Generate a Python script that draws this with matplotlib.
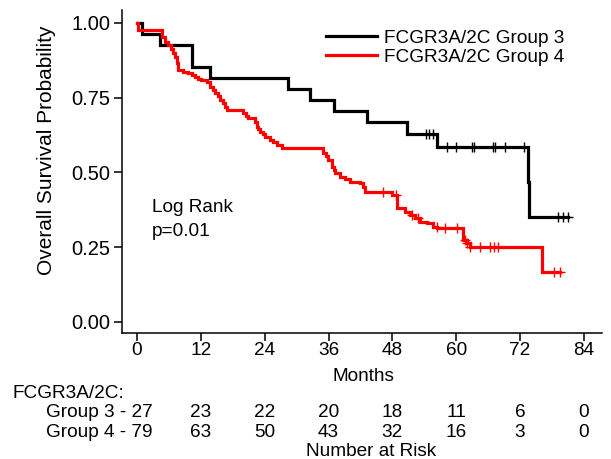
import numpy as np
import matplotlib
matplotlib.use("Agg")
import matplotlib.pyplot as plt
from matplotlib.lines import Line2D
import matplotlib.transforms as mtransforms

plt.rcParams['font.family'] = ['Liberation Sans', 'DejaVu Sans']
FS = 13.7

# ---------------- data ----------------
g3_label = "FCGR3A/2C Group 3"
g4_label = "FCGR3A/2C Group 4"

# Group 3: event times (months) and survival after each step
g3_times = [0, 0.9, 4.3, 10.3, 13.7, 28.4, 32.5, 37.0, 43.2, 50.8, 56.3, 73.4, 73.7]
g3_surv = [1.0, 0.963, 0.926, 0.852, 0.815, 0.778, 0.741, 0.704, 0.667, 0.630, 0.585, 0.468, 0.351]
g3_censor = [54.3, 54.9, 55.7, 58.2, 60.0, 63.0, 63.4, 66.9, 67.3, 69.2, 72.7, 79.2, 80.0, 81.1]

# Group 4
g4_times = [0, 0.1, 4.64, 5.26, 5.83, 6.39, 6.82, 7.14, 7.46, 7.76, 8.70, 9.59, 10.34, 10.90,
            11.47, 12.03, 13.10, 13.72, 14.29, 14.66, 15.23, 15.60, 16.17, 16.54, 16.86,
            19.98, 20.58, 20.92, 22.18, 22.50, 22.80, 23.12, 23.68, 24.06, 25.00, 25.56,
            26.26, 27.20, 35.02, 35.53, 35.96, 36.60, 36.94, 37.22, 38.16, 39.10, 40.04,
            41.92, 42.39, 42.86, 47.88, 48.82, 50.38, 51.32, 52.26, 53.20, 54.45, 55.70,
            56.33, 61.33, 61.97, 62.59, 76.07]
g4_surv = [1.0, 0.977, 0.953, 0.937, 0.926, 0.911, 0.900, 0.886, 0.865, 0.843, 0.837, 0.832,
           0.824, 0.820, 0.813, 0.808, 0.803, 0.787, 0.776, 0.765, 0.754, 0.742, 0.731,
           0.720, 0.709, 0.698, 0.687, 0.681, 0.670, 0.653, 0.645, 0.636, 0.629, 0.620,
           0.609, 0.600, 0.592, 0.581, 0.564, 0.554, 0.542, 0.519, 0.508, 0.497, 0.486,
           0.477, 0.469, 0.464, 0.450, 0.436, 0.425, 0.380, 0.369, 0.358, 0.347, 0.335,
           0.330, 0.319, 0.313, 0.274, 0.263, 0.252, 0.168]
g4_censor = [46.3, 48.6, 51.6, 52.9, 56.3, 57.9, 60.1, 61.6, 62.0, 62.6, 64.5, 66.4, 67.1,
             67.9, 78.3, 79.5]

risk_times = [0, 12, 24, 36, 48, 60, 72, 84]
g3_risk = [27, 23, 22, 20, 18, 11, 6, 0]
g4_risk = [79, 63, 50, 43, 32, 16, 3, 0]

x_ticks = [0, 12, 24, 36, 48, 60, 72, 84]
y_ticks = [0.0, 0.25, 0.5, 0.75, 1.0]

# ---------------- figure ----------------
W, H = 611, 459
fig = plt.figure(figsize=(W / 100, H / 100), dpi=100)
ax = fig.add_axes([122 / W, 1 - 333 / H, 480 / W, 323 / H])


def km_draw(times, surv, censor, color):
    t = list(times) + [max(censor[-1], times[-1])]
    s = list(surv) + [surv[-1]]
    ax.step(t, s, where='post', color=color, lw=2.3, solid_joinstyle='miter', zorder=3)
    idx = np.searchsorted(np.array(times), np.array(censor), side='right') - 1
    cs = np.array(surv)[idx]
    ax.plot(censor, cs, ls='none', marker='+', ms=7.5, mew=1.0, color=color, zorder=4)


km_draw(g3_times, g3_surv, g3_censor, 'black')
km_draw(g4_times, g4_surv, g4_censor, '#ff0000')

ax.set_xlim(-2.82, 87.4)
ax.set_ylim(-0.037, 1.043)
ax.set_xticks(x_ticks)
ax.set_xticklabels([str(v) for v in x_ticks])
ax.set_yticks(y_ticks)
ax.set_yticklabels([f"{v:.2f}" for v in y_ticks])
for sp in ['top', 'right']:
    ax.spines[sp].set_visible(False)
for sp in ['left', 'bottom']:
    ax.spines[sp].set_linewidth(1.1)
ax.tick_params(axis='both', direction='out', length=5.5, width=1.1, labelsize=FS, colors='black')
ax.tick_params(axis='x', pad=1)
ax.tick_params(axis='y', pad=3, labelsize=14.5)

# legend
handles = [Line2D([], [], color='black', lw=2.3), Line2D([], [], color='#ff0000', lw=2.3)]
ax.legend(handles, [g3_label, g4_label], loc='upper left', bbox_to_anchor=(0.425, 0.94),
          frameon=False, fontsize=FS, handlelength=2.7, handletextpad=0.35,
          labelspacing=0.1, borderpad=0, borderaxespad=0)

# Log rank annotation
ax.text(2.76, 0.367, "Log Rank", fontsize=FS, ha='left', va='baseline')
ax.text(2.76, 0.288, "p=0.01", fontsize=FS, ha='left', va='baseline')

# y label
fig.text(47 / W, 1 - 150 / H, "Overall Survival Probability", rotation=90,
         ha='center', va='center', fontsize=15)

# x label and risk table
blend = mtransforms.blended_transform_factory(ax.transData, fig.transFigure)
fig.text(363 / W, 1 - 381 / H, "Months", ha='center', va='baseline', fontsize=FS)
fig.text(13 / W, 1 - 398 / H, "FCGR3A/2C:", ha='left', va='baseline', fontsize=FS)
ax.text(2.9, 1 - 417 / H, f"Group 3 - {g3_risk[0]}", transform=blend, ha='right',
        va='baseline', fontsize=FS)
ax.text(2.9, 1 - 437 / H, f"Group 4 - {g4_risk[0]}", transform=blend, ha='right',
        va='baseline', fontsize=FS)
for t, a, b in zip(risk_times[1:], g3_risk[1:], g4_risk[1:]):
    ax.text(t, 1 - 417 / H, str(a), transform=blend, ha='center', va='baseline', fontsize=FS)
    ax.text(t, 1 - 437 / H, str(b), transform=blend, ha='center', va='baseline', fontsize=FS)
fig.text(371 / W, 1 - 456 / H, "Number at Risk", ha='center', va='baseline', fontsize=FS)

fig.savefig("out.png", dpi=100)
